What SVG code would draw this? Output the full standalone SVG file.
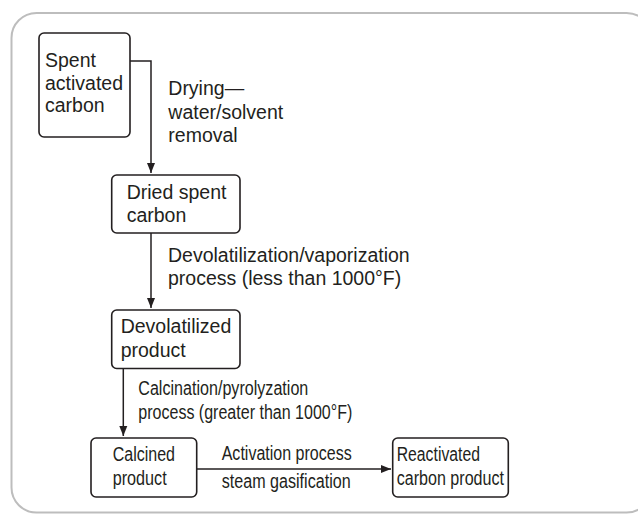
<svg xmlns="http://www.w3.org/2000/svg" width="638" height="514" viewBox="0 0 638 514">
<defs>
<style>
.t{font-family:"Liberation Sans",Arial,sans-serif;font-size:19.5px;fill:#231f20}
.box{fill:#fff;stroke:#231f20;stroke-width:1.6}
.c{fill:none;stroke:#231f20;stroke-width:1.5}
</style>
<marker id="ah" viewBox="0 0 10 10" refX="10" refY="5" markerWidth="10" markerHeight="10" markerUnits="userSpaceOnUse" orient="auto">
<path d="M0,1 L10,5 L0,9 Z" fill="#231f20"/>
</marker>
</defs>
<rect width="638" height="514" fill="#fff"/>
<rect x="11.5" y="13" width="640" height="499.5" rx="25" fill="none" stroke="#bdbdbd" stroke-width="2"/>
<g id="connectors">
<path class="c" d="M130,61 H151 V173" marker-end="url(#ah)"/>
<path class="c" d="M151,233 V308" marker-end="url(#ah)"/>
<path class="c" d="M123.3,368 V436" marker-end="url(#ah)"/>
<path class="c" d="M196.7,469 H391" marker-end="url(#ah)"/>
<text class="t" x="168.3" y="95">Drying—</text>
<text class="t" x="168.3" y="118.5">water/solvent</text>
<text class="t" x="168.3" y="141.5">removal</text>
<text class="t" x="168" y="261.5">Devolatilization/vaporization</text>
<text class="t" x="168" y="285">process (less than 1000°F)</text>
<text class="t" x="138.3" y="395" textLength="170" lengthAdjust="spacingAndGlyphs">Calcination/pyrolyzation</text>
<text class="t" x="138.3" y="418.5" textLength="214" lengthAdjust="spacingAndGlyphs">process (greater than 1000°F)</text>
<text class="t" x="221.7" y="460" textLength="130" lengthAdjust="spacingAndGlyphs">Activation process</text>
<text class="t" x="221.7" y="488" textLength="129" lengthAdjust="spacingAndGlyphs">steam gasification</text>
</g>
<g id="n1">
<rect class="box" x="39" y="33" width="91" height="104" rx="5"/>
<text class="t" x="45" y="67">Spent</text>
<text class="t" x="45" y="89.5">activated</text>
<text class="t" x="45" y="112">carbon</text>
</g>
<g id="n2">
<rect class="box" x="111.7" y="175" width="128.3" height="58" rx="5"/>
<text class="t" x="126.7" y="199">Dried spent</text>
<text class="t" x="126.7" y="222">carbon</text>
</g>
<g id="n3">
<rect class="box" x="111.7" y="310" width="128.3" height="58.5" rx="5"/>
<text class="t" x="120.7" y="333">Devolatilized</text>
<text class="t" x="120.7" y="356.5">product</text>
</g>
<g id="n4">
<rect class="box" x="91" y="438" width="105.7" height="59" rx="5"/>
<text class="t" x="112.7" y="461" textLength="62.3" lengthAdjust="spacingAndGlyphs">Calcined</text>
<text class="t" x="112.7" y="485" textLength="54" lengthAdjust="spacingAndGlyphs">product</text>
</g>
<g id="n5">
<rect class="box" x="392.7" y="438" width="115.6" height="59" rx="5"/>
<text class="t" x="396.7" y="461" textLength="83.3" lengthAdjust="spacingAndGlyphs">Reactivated</text>
<text class="t" x="396.7" y="485" textLength="107.3" lengthAdjust="spacingAndGlyphs">carbon product</text>
</g>
</svg>
